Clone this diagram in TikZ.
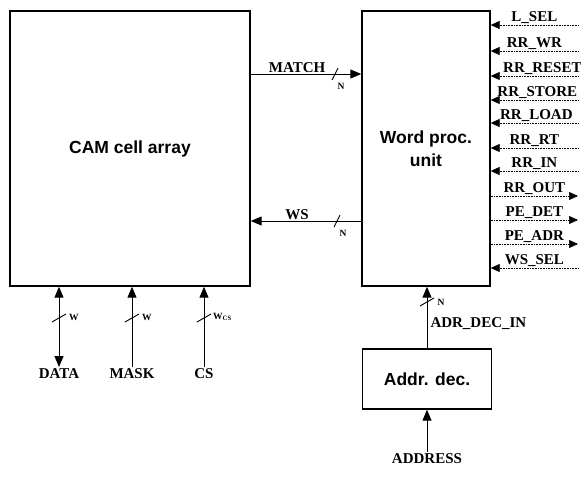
\documentclass[tikz,border=0pt]{standalone}
\usepackage{fontspec}
\setmainfont{Liberation Serif}
\setsansfont{Liberation Sans}
\usetikzlibrary{arrows.meta,positioning}

\begin{document}
\begin{tikzpicture}[x=1pt, y=-1pt,
  block/.style={rectangle, draw, line width=1.4pt, inner sep=0pt,
                align=center, font=\sffamily\bfseries\fontsize{17.5}{23}\selectfont},
  sig/.style={font=\bfseries\fontsize{15}{17}\selectfont, inner sep=1pt},
  wid/.style={font=\bfseries\fontsize{9.5}{10}\selectfont, inner sep=0pt},
  bus/.style={line width=1pt, -{Triangle[length=11pt,width=9pt]}},
  ctl/.style={line width=0.6pt, densely dotted},
  tipin/.style={<-, >={Triangle[length=9pt,width=8pt]}},
  tipout/.style={->, >={Triangle[length=9pt,width=8pt]}},
  cut/.style={line width=0.9pt},
]
  \useasboundingbox (0,0) rectangle (581,479);

  % blocks
  \node[block, minimum width=240pt, minimum height=275pt] (cam) at (130,148.5) {CAM cell array};
  \node[block, minimum width=128pt, minimum height=275pt] (wpu) at (426,148.5) {Word proc.\\unit};
  \node[block, minimum width=129pt, minimum height=60pt] (adec) at (427,379) {Addr. dec.};

  % buses between the blocks
  \draw[bus] (cam.east |- 0,74) -- node[sig, above, pos=0.42] (match) {MATCH} (wpu.west |- 0,74);
  \draw[cut] (335,74) ++(-3,6) -- ++(6,-12);
  \node[wid] (nmatch) at (341,86) {N};
  \draw[bus] (wpu.west |- 0,221) -- node[sig, above, pos=0.58] (ws) {WS} (cam.east |- 0,221);
  \draw[cut] (337,221) ++(-3,6) -- ++(6,-12);
  \node[wid] (nws) at (343,233) {N};

  % cam inputs
  \node[sig, anchor=north] (data) at (59,367) {DATA};
  \node[sig, anchor=north] (mask) at (132,367) {MASK};
  \node[sig, anchor=north] (cs) at (204,367) {CS};
  \draw[bus, {Triangle[length=11pt,width=9pt]}-{Triangle[length=11pt,width=9pt]}] (data.north) -- (cam.south -| data.north);
  \draw[bus] (mask.north) -- (cam.south -| mask.north);
  \draw[bus] (cs.north) -- (cam.south -| cs.north);
  \draw[cut] (59,318) ++(-7,4) -- ++(14,-8);
  \draw[cut] (132,318) ++(-7,4) -- ++(14,-8);
  \draw[cut] (204,318) ++(-7,4) -- ++(14,-8);
  \node[wid, anchor=west] (wdata) at (69,317) {W};
  \node[wid, anchor=west] (wmask) at (142,317) {W};
  \node[wid, anchor=west] (wcs) at (213,317) {W\textsubscript{CS}};

  % decoder
  \draw[bus] (adec.north) -- node[sig, right=2pt, pos=0.4] (adin) {ADR\_DEC\_IN} (wpu.south -| adec.north);
  \draw[cut] (427,302) ++(-7,4) -- ++(14,-8);
  \node[wid] (nadin) at (441,302) {N};
  \node[sig, anchor=north] (addr) at (427,452) {ADDRESS};
  \draw[bus] (addr.north) -- (adec.south);

  % control lines of the word processing unit
  \coordinate (lsel) at (578,25);
  \coordinate (rrwr) at (578,51);
  \coordinate (rrreset) at (578,76);
  \coordinate (rrstore) at (578,100);
  \coordinate (rrload) at (578,123);
  \coordinate (rrrt) at (578,148);
  \coordinate (rrin) at (578,171);
  \coordinate (rrout) at (578,196);
  \coordinate (pedet) at (578,220);
  \coordinate (peadr) at (578,244);
  \coordinate (wssel) at (578,268);
  \draw[ctl, tipin] (wpu.east |- lsel) -- node[sig, above] {L\_SEL} (lsel);
  \draw[ctl, tipin] (wpu.east |- rrwr) -- node[sig, above] {RR\_WR} (rrwr);
  \draw[ctl, tipin] (wpu.east |- rrreset) -- node[sig, above, xshift=8pt] {RR\_RESET} (rrreset);
  \draw[ctl, tipin] (wpu.east |- rrstore) -- node[sig, above, xshift=3pt] {RR\_STORE} (rrstore);
  \draw[ctl, tipin] (wpu.east |- rrload) -- node[sig, above, xshift=2pt] {RR\_LOAD} (rrload);
  \draw[ctl, tipin] (wpu.east |- rrrt) -- node[sig, above] {RR\_RT} (rrrt);
  \draw[ctl, tipin] (wpu.east |- rrin) -- node[sig, above] {RR\_IN} (rrin);
  \draw[ctl, tipout] (wpu.east |- rrout) -- node[sig, above] {RR\_OUT} (rrout);
  \draw[ctl, tipout] (wpu.east |- pedet) -- node[sig, above] {PE\_DET} (pedet);
  \draw[ctl, tipout] (wpu.east |- peadr) -- node[sig, above] {PE\_ADR} (peadr);
  \draw[ctl, tipin] (wpu.east |- wssel) -- node[sig, above] {WS\_SEL} (wssel);
\end{tikzpicture}
\end{document}
